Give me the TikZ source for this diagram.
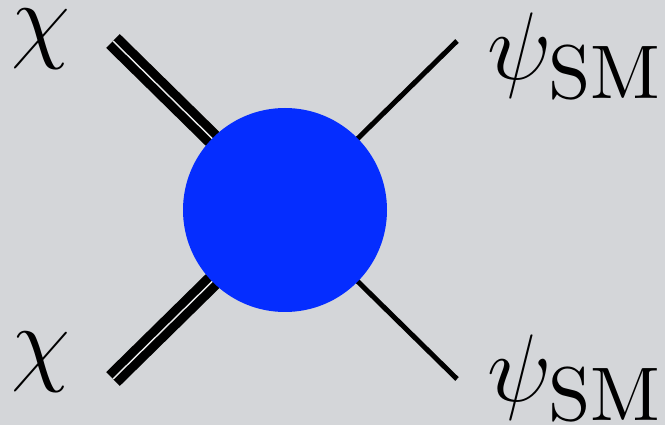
\RequirePackage{fix-cm}
\documentclass[tikz,border=0pt]{standalone}
\usepackage{tikz}
\definecolor{bggray}{RGB}{212,214,217}
\definecolor{blobblue}{RGB}{5,45,255}
\font\smfnt=cmr10 at 76pt
\newcommand{\smsub}{\hbox{\smfnt SM}}

\begin{document}
\begin{tikzpicture}[x=1pt, y=-1pt,
 every node/.style={inner sep=0pt, outer sep=0pt, font=\fontsize{96}{100}\selectfont},
 dmline/.style={draw=black, line width=9pt, double=white!55!bggray, double distance=1.4pt},
 smline/.style={draw=black, line width=5pt},
 blob/.style={circle, fill=blobblue, minimum size=204pt}]
\useasboundingbox (0,0) rectangle (665,425);
\fill[bggray] (0,0) rectangle (665,425);
\coordinate (vtx) at (285,210);
\coordinate (inA) at (113,41);
\coordinate (inB) at (113,379);
\coordinate (outA) at (457,41);
\coordinate (outB) at (457,379);
\draw[dmline] (inA) -- (vtx);
\draw[dmline] (inB) -- (vtx);
\draw[smline] (outA) -- (vtx);
\draw[smline] (outB) -- (vtx);
\node[blob] (core) at (vtx) {};
\node[anchor=base west] (chiA) at (12,51) {$\chi$};
\node[anchor=base west] (chiB) at (12,373) {$\chi$};
\node[anchor=base west] (psiA) at (487,79.5) {$\psi_{\smsub}$};
\node[anchor=base west] (psiB) at (487,401.5) {$\psi_{\smsub}$};
\end{tikzpicture}
\end{document}
